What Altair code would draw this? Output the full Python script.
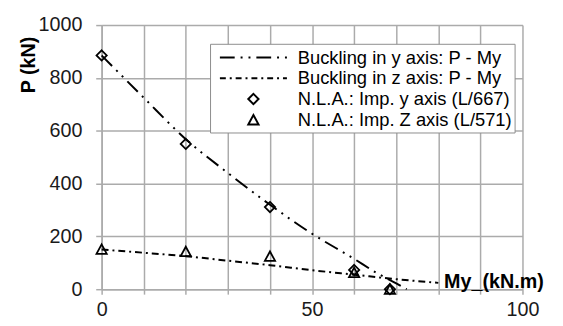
import altair as alt
import pandas as pd

# ---------------- data ----------------
series_names = [
    "Buckling in y axis: P - My",
    "Buckling in z axis: P - My",
    "N.L.A.: Imp. y axis (L/667)",
    "N.L.A.: Imp. Z axis (L/571)",
]

buck_y_my = [0, 10, 20, 30, 40, 50, 60, 65, 70, 72.5]
buck_y_p = [885, 725, 568, 440, 320, 210, 115, 65, 22, 0]

buck_z_my = [0, 10, 20, 30, 40, 50, 60, 70, 80]
buck_z_p = [150, 138, 125, 108, 91, 72, 55, 38, 24]

nla_my = [0, 20, 40, 60, 68.5]
nla_y_p = [885, 550, 311, 73, 0]
nla_z_p = [152, 143, 125, 64, 0]

x_ticks = list(range(0, 101, 10))
y_ticks = [0, 200, 400, 600, 800, 1000]

# ---------------- styling ----------------
FONT = "Liberation Sans"
GRID = "#ababab"

# legend / marker symbols as custom paths (1 unit = 10 px at size 400)
path_y_line = ("M-3.4,0H-1.9M-1.3,0H-1.1M-0.5,0H-0.3"
               "M0.3,0H1.8M2.4,0H2.6M3.2,0H3.4")
path_z_line = ("M-3.4,0H-2.8M-2.4,0H-2.2M-1.8,0H-1.2M-0.8,0H-0.6"
               "M-0.2,0H0.4M0.8,0H1.0M1.4,0H2.0M2.4,0H2.6M3.0,0H3.4")
path_diamond = "M0,-0.52L0.52,0L0,0.52L-0.52,0Z"
path_triangle = "M0,-0.48L0.52,0.48L-0.52,0.48Z"
shape_range = [path_y_line, path_z_line, path_diamond, path_triangle]

df_ly = pd.DataFrame({"My": buck_y_my, "P": buck_y_p})
df_lz = pd.DataFrame({"My": buck_z_my, "P": buck_z_p})
df_pts = pd.concat([
    pd.DataFrame({"My": nla_my, "P": nla_y_p, "series": series_names[2]}),
    pd.DataFrame({"My": nla_my, "P": nla_z_p, "series": series_names[3]}),
], ignore_index=True)

x_enc = alt.X(
    "My:Q",
    scale=alt.Scale(domain=[0, 100], nice=False, zero=False),
    axis=alt.Axis(
        values=x_ticks,
        labelExpr="datum.value % 50 === 0 ? datum.label : ''",
        labelFont=FONT, labelFontSize=20, labelColor="#1a1a1a",
        labelPadding=6, labelFlush=False, labelOverlap=False,
        tickSize=5, tickColor=GRID, tickWidth=1.5,
        grid=True, gridColor=GRID, gridWidth=1.5,
        domainColor=GRID, domainWidth=1.5,
        title="My_(kN.m)", titleFont=FONT, titleFontSize=20,
        titleFontWeight="bold", titleColor="black",
        titleAlign="left", titleBaseline="alphabetic",
        titleX=347, titleY=-1.5,
    ),
)
y_enc = alt.Y(
    "P:Q",
    scale=alt.Scale(domain=[0, 1000], nice=False),
    axis=alt.Axis(
        values=y_ticks, format="d",
        labelFont=FONT, labelFontSize=20, labelColor="#1a1a1a",
        labelPadding=14,
        tickSize=6, tickColor=GRID, tickWidth=1.5,
        grid=True, gridColor=GRID, gridWidth=1.5,
        domainColor=GRID, domainWidth=1.5,
        title="P (kN)", titleFont=FONT, titleFontSize=20,
        titleFontWeight="bold", titleColor="black",
        titleAngle=270, titleAlign="center", titleBaseline="middle",
        titleX=-74, titleY=40,
    ),
)

line_y = alt.Chart(df_ly).mark_line(
    color="black", strokeWidth=2, strokeDash=[15, 6, 2, 6, 2, 6],
    interpolate="monotone",
).encode(x=x_enc, y=y_enc)

line_z = alt.Chart(df_lz).mark_line(
    color="black", strokeWidth=2, strokeDash=[7, 4, 2, 4],
    interpolate="monotone",
).encode(x=x_enc, y=y_enc)

pts = alt.Chart(df_pts).mark_point(
    filled=False, color="black", strokeWidth=1.8, size=400, opacity=1,
).encode(
    x=x_enc,
    y=y_enc,
    shape=alt.Shape(
        "series:N",
        scale=alt.Scale(domain=series_names, range=shape_range),
        legend=alt.Legend(
            title=None,
            orient="none", legendX=110, legendY=19,
            fillColor="white", strokeColor="#8c8c8c", padding=3,
            symbolSize=400, symbolStrokeWidth=2,
            symbolStrokeColor="black", symbolFillColor="transparent",
            symbolOffset=30,
            labelFont=FONT, labelFontSize=18.6, labelColor="black",
            labelOffset=34, labelLimit=400, rowPadding=0,
            labelExpr="datum.label + '\u00a0\u00a0\u00a0\u00a0'",
        ),
    ),
)

chart = alt.layer(line_y, line_z, pts).properties(
    width=427,
    height=268,
    autosize=alt.AutoSizeParams(type="none"),
    padding={"left": 95, "top": 15, "right": 33, "bottom": 35},
).configure_view(stroke=None)

chart.save("out.html", embed_options={"renderer": "svg", "actions": False})
